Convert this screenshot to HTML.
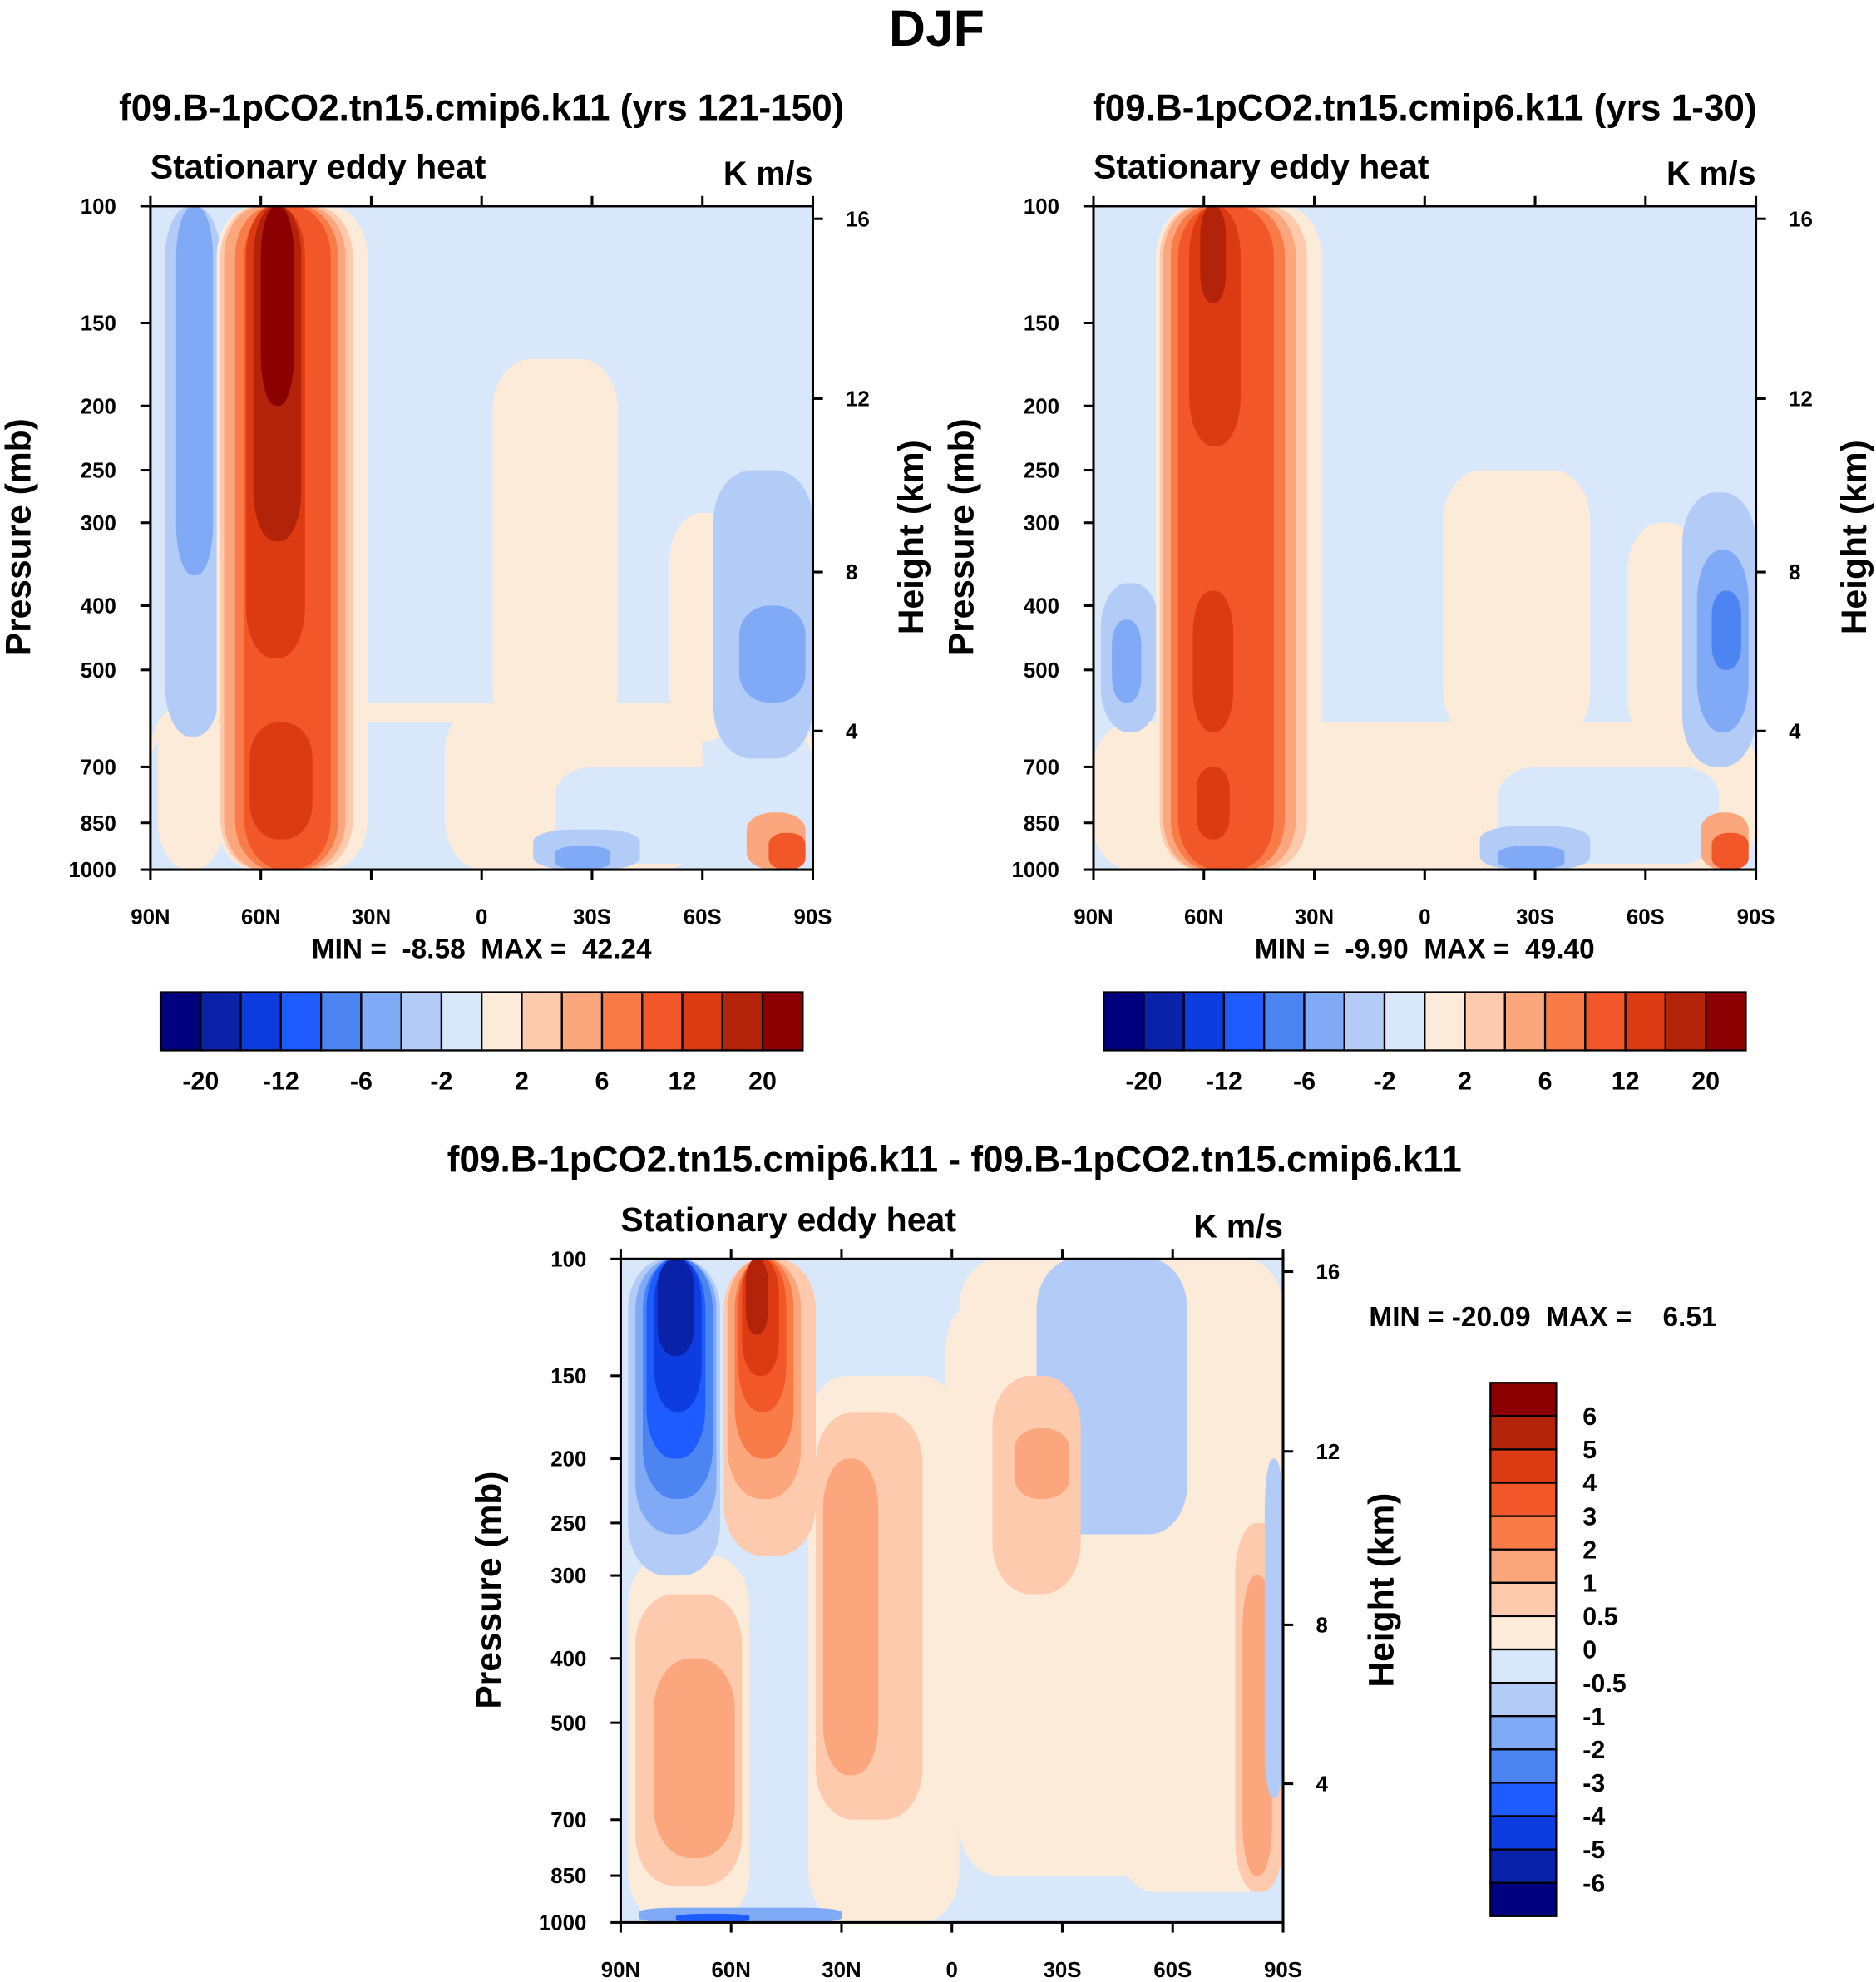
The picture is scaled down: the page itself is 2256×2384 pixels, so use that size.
<!DOCTYPE html>
<html><head><meta charset="utf-8">
<style>
html,body{margin:0;padding:0;background:#fff;}
svg{display:block;}
text{font-family:"Liberation Sans",sans-serif;font-weight:bold;fill:#000;white-space:pre;}
</style></head>
<body>
<svg id="fig" width="2256" height="2384" viewBox="0 0 1484 1568" xmlns="http://www.w3.org/2000/svg" xml:space="preserve">
<text x="741" y="36" font-size="40" text-anchor="middle">DJF</text>
</svg>
<script>
// ---- data ----
const colorsA = ['#00007f','#0a22a8','#0d3de0','#1f5cff','#4c84f2','#80aaf5','#b2cbf7','#d8e7fa','#fdebd9','#fdcaad','#fba67d','#f97b47','#f2572a','#dc3a12','#b3230a','#8b0000'];
const cbLabelsA = ['-20','-12','-6','-2','2','6','12','20'];
const cbLabelsB = ['6','5','4','3','2','1','0.5','0','-0.5','-1','-2','-3','-4','-5','-6'];
const pTicks = [100,150,200,250,300,400,500,700,850,1000];
const latTicks = [90,60,30,0,-30,-60,-90];
const latLabels = ['90N','60N','30N','0','30S','60S','90S'];
const hTicks = [16,12,8,4];
const hTickP = [104.5,195,356,618];
// features: [latN, latS, pTop, pBottom, colorIndex]
const p1Features = [
 [90,-90,560,1000,8],[90,-90,600,1000,7],
 [88,70,560,1000,8],
 [-3,-37,170,640,8],[-51,-70,290,640,8],[10,-60,560,1000,8],[-20,-80,700,980,7],
 [86,71,100,630,6],[83,73,100,360,5],
 [72,31,100,1000,8],[71,35,100,1000,9],[70,37,100,1000,10],[67,39,100,1000,11],[64.5,41,100,1000,12],
 [64,48,100,480,13],[63,46,600,900,13],[62,49,100,320,14],[60,51,100,200,15],
 [-63,-90,250,680,6],[-70,-88,400,560,5],
 [-14,-43,870,1000,6],[-20,-35,920,1000,5],
 [-72,-88,820,1000,10],[-78,-88,880,1000,12]
];
const p2Features = [
 [90,-90,600,1000,8],
 [-5,-45,250,640,8],[-55,-75,300,650,8],[-20,-80,700,980,7],
 [88,72,370,620,6],[85,77,420,560,5],[64,60,150,200,6],
 [73,28,100,1000,8],[72,32,100,1000,9],[71,35,100,1000,10],[69,38,100,1000,11],[67,41,100,1000,12],
 [64,50,100,230,13],[63,52,380,620,13],[62,53,700,900,13],[61,54,100,140,14],
 [-70,-90,270,700,6],[-74,-88,330,620,5],[-78,-86,380,500,4],
 [-15,-45,860,1000,6],[-20,-38,920,1000,5],
 [-75,-88,820,1000,10],[-78,-88,880,1000,12]
];
const p3Features = [
 [-2,-90,100,850,8],[2,-8,120,600,8],
 [-23,-64,100,260,6],[-30,-55,100,180,6],
 [-11,-35,150,320,9],[-17,-32,180,230,10],
 [-45,-90,400,900,8],
 [88,55,280,1000,8],[86,57,320,880,9],[81,59,400,800,10],
 [39,-2,150,1000,8],[37,8,170,700,9],[35,20,200,600,10],
 [-77,-90,250,900,9],[-79,-87,300,850,10],
 [-85,-90,200,650,6],
 [88,63,100,300,6],[86,64,100,260,5],[84,65,100,230,4],[83,67,100,200,3],[81,68,100,170,2],[80,70,100,140,1],
 [62,37,100,280,9],[61,41,100,230,10],[59,43,100,200,11],[58,45,100,170,12],[57,47,100,150,13],[56,50,100,130,14],
 [85,30,950,1000,5],[75,55,970,1000,3]
];
// ---- drawing ----
const NS='http://www.w3.org/2000/svg';
const svg=document.getElementById('fig');
function mk(tag,attrs,parent){const e=document.createElementNS(NS,tag);for(const k in attrs)e.setAttribute(k,attrs[k]);(parent||svg).appendChild(e);return e;}
function txt(s,x,y,size,anchor,parent){const t=mk('text',{x:x,y:y,'font-size':size,'text-anchor':anchor||'middle'},parent);t.textContent=s;return t;}

function panel(id,ox,oy,title,tx,ty,feats,bg){
 const W=524,H=525;
 const xs=lat=>ox+(90-lat)/180*W;
 const ys=p=>oy+(Math.log10(p)-2)*H;
 const g=mk('g',{});
 
 
 const t=txt(title,tx,ty,29,'middle',g);
 
 
 const s=txt('Stationary eddy heat',ox,oy-22,27,'start',g);
 
 
 const u=txt('K m/s',ox+W,oy-17,26,'end',g);
 
 
 const clip='c'+id;
 const cp=mk('clipPath',{id:clip},g);mk('rect',{x:ox,y:oy,width:W,height:H},cp);
 const fg=mk('g',{'clip-path':'url(#'+clip+')'},g);
 const b=mk('rect',{x:ox,y:oy,width:W,height:H,fill:colorsA[bg]},fg);
 
 
 feats.forEach(f=>{
  const x1=xs(f[0]),x2=xs(f[1]),y1=ys(f[2]),y2=ys(f[3]);
  const w=x2-x1,h=y2-y1;
  const r=mk('rect',{x:x1,y:y1,width:w,height:h,rx:Math.min(w*0.45,30),ry:Math.min(h*0.3,40),fill:colorsA[f[4]]},fg);
  
  
 });
 const fr=mk('rect',{x:ox,y:oy,width:W,height:H,fill:'none',stroke:'#000','stroke-width':2},g);
 
 
 pTicks.forEach(p=>{
  const y=ys(p);
  mk('line',{x1:ox-8,x2:ox,y1:y,y2:y,stroke:'#000','stroke-width':2},g);
  const l=txt(String(p),ox-27,y+6,17,'end',g);
  
  
 });
 latTicks.forEach((lat,i)=>{
  const x=xs(lat);
  mk('line',{x1:x,x2:x,y1:oy+H,y2:oy+H+8,stroke:'#000','stroke-width':2},g);
  mk('line',{x1:x,x2:x,y1:oy,y2:oy-8,stroke:'#000','stroke-width':2},g);
  const l=txt(latLabels[i],x,oy+H+43,17,'middle',g);
  
  
 });
 hTicks.forEach((h,i)=>{
  const y=ys(hTickP[i]);
  mk('line',{x1:ox+W,x2:ox+W+8,y1:y,y2:y,stroke:'#000','stroke-width':2},g);
  const l=txt(String(h),ox+W+26,y+6,17,'start',g);
  
  
 });
 const pl=txt('Pressure (mb)',0,0,28,'middle',g);
 pl.setAttribute('transform','translate('+(ox-95)+','+(oy+262)+') rotate(-90)');
 
 
 const hl=txt('Height (km)',0,0,28,'middle',g);
 hl.setAttribute('transform','translate('+(ox+W+87)+','+(oy+262)+') rotate(-90)');
 
 
}
function hbar(ox,oy,id){
 const g=mk('g',{});
 
 
 const bw=508/16;
 colorsA.forEach((c,i)=>{const r=mk('rect',{x:ox+i*bw,y:oy,width:bw,height:46,fill:c,stroke:'#000','stroke-width':1.5},g);
  
  });
 cbLabelsA.forEach((s,i)=>{const l=txt(s,ox+bw*(1+2*i),oy+77,20,'middle',g);
  
  });
}
panel('panel-yrs-121-150',119,163,'f09.B-1pCO2.tn15.cmip6.k11 (yrs 121-150)',381,95,p1Features,7);
panel('panel-yrs-1-30',865,163,'f09.B-1pCO2.tn15.cmip6.k11 (yrs 1-30)',1127,95,p2Features,7);
panel('panel-difference',491,996,'f09.B-1pCO2.tn15.cmip6.k11 - f09.B-1pCO2.tn15.cmip6.k11',755,927,p3Features,7);
let m=txt('MIN =  -8.58  MAX =  42.24',381,758,22,'middle');

m=txt('MIN =  -9.90  MAX =  49.40',1127,758,22,'middle');

m=txt('MIN = -20.09  MAX =    6.51',1083,1049,22,'start');

hbar(127,785,'colorbar-1');
hbar(873,785,'colorbar-2');
// vertical colorbar
(function(){
 const g=mk('g',{});
 
 
 const bh=422/16;
 for(let i=0;i<16;i++){const r=mk('rect',{x:1179,y:1094+i*bh,width:52,height:bh,fill:colorsA[15-i],stroke:'#000','stroke-width':1.5},g);
  
  }
 cbLabelsB.forEach((s,i)=>{const l=txt(s,1252,1094+bh*(i+1)+7,20,'start',g);
  
  });
})();
</script>
</body></html>
